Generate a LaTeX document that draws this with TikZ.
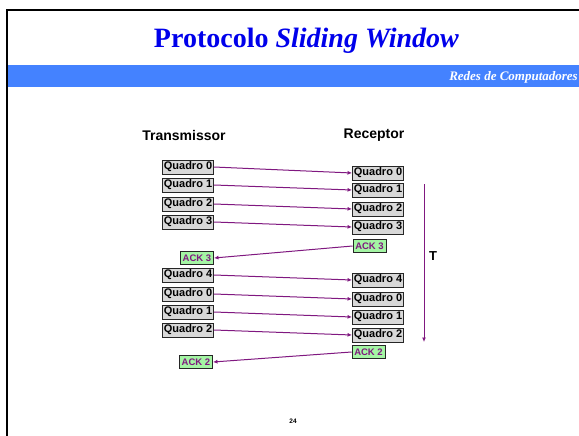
\documentclass[tikz,border=0pt]{standalone}
\usepackage{fontspec}
\setmainfont{Liberation Serif}
\newfontfamily\helv{Liberation Sans}
\usetikzlibrary{arrows.meta}

\definecolor{faixa}{RGB}{68,130,255}
\definecolor{titulo}{RGB}{0,0,235}
\definecolor{roxo}{RGB}{128,24,128}
\definecolor{cinzaq}{RGB}{216,216,216}
\definecolor{verdeack}{RGB}{164,245,164}

\tikzset{
	quadro/.style={draw=black!85, line width=0.9pt, fill=cinzaq, minimum width=51pt, minimum height=14pt, inner sep=0pt, font=\helv\bfseries\fontsize{11}{12}\selectfont},
	ack/.style={draw=black!85, line width=0.9pt, fill=verdeack, minimum width=33pt, minimum height=13pt, inner sep=0pt, text=roxo, font=\helv\bfseries\fontsize{9.5}{10}\selectfont},
	envio/.style={roxo, line width=1pt, -{Latex[length=4.5pt,width=4pt]}},
	cabeca/.style={font=\helv\bfseries\fontsize{14}{16}\selectfont}
}

\begin{document}
\begin{tikzpicture}[x=1pt,y=-1pt]
	\useasboundingbox (0,0) rectangle (579,436);
	\fill[white] (0,0) rectangle (579,436);
	\fill[faixa] (7,65) rectangle (579,87);
	\draw[line width=2.2pt] (7,436) -- (7,10) -- (579,10);
	\node (titulo) [anchor=base, text=titulo, font=\bfseries\fontsize{28}{32}\selectfont] at (306.5,48) {Protocolo \textit{Sliding Window}};
	\node (disciplina) [anchor=base east, inner sep=0pt, text=white, font=\bfseries\itshape\fontsize{13}{15}\selectfont] at (578,81) {Redes de Computadores};
	\node (transmissor) [cabeca] at (184,135) {Transmissor};
	\node (receptor) [cabeca] at (374,135) {Receptor};
	% quadros enviados
	\node (t0) [quadro] at (188,167) {Quadro 0};
	\node (t1) [quadro] at (188,185) {Quadro 1};
	\node (t2) [quadro] at (188,204) {Quadro 2};
	\node (t3) [quadro] at (188,222) {Quadro 3};
	\node (ta3) [ack] at (197,258) {ACK 3};
	\node (t4) [quadro] at (188,275) {Quadro 4};
	\node (t5) [quadro] at (188,294) {Quadro 0};
	\node (t6) [quadro] at (188,312) {Quadro 1};
	\node (t7) [quadro] at (188,330) {Quadro 2};
	\node (ta2) [ack] at (196,362) {ACK 2};
	% quadros recebidos
	\node (r0) [quadro] at (378,173) {Quadro 0};
	\node (r1) [quadro] at (378,190) {Quadro 1};
	\node (r2) [quadro] at (378,209) {Quadro 2};
	\node (r3) [quadro] at (378,227) {Quadro 3};
	\node (ra3) [ack] at (369.5,246) {ACK 3};
	\node (r4) [quadro] at (378,280) {Quadro 4};
	\node (r5) [quadro] at (378,299) {Quadro 0};
	\node (r6) [quadro] at (378,317) {Quadro 1};
	\node (r7) [quadro] at (378,335) {Quadro 2};
	\node (ra2) [ack] at (368.5,352) {ACK 2};
	\foreach \i in {0,...,7}
		\draw [envio] (t\i.east) -- (r\i.west);
	\draw [envio] (ra3.west) -- (ta3.east);
	\draw [envio] (ra2.west) -- (ta2.east);
	% eixo do tempo
	\coordinate (tempo ini) at (424,184);
	\coordinate (tempo fim) at (424,342);
	\draw [envio] (tempo ini) -- (tempo fim);
	\node (tempo) [font=\helv\bfseries\fontsize{13}{15}\selectfont] at (433,256) {T};
	\node (pagina) [font=\helv\bfseries\fontsize{6.5}{8}\selectfont] at (293,421) {24};
\end{tikzpicture}
\end{document}
